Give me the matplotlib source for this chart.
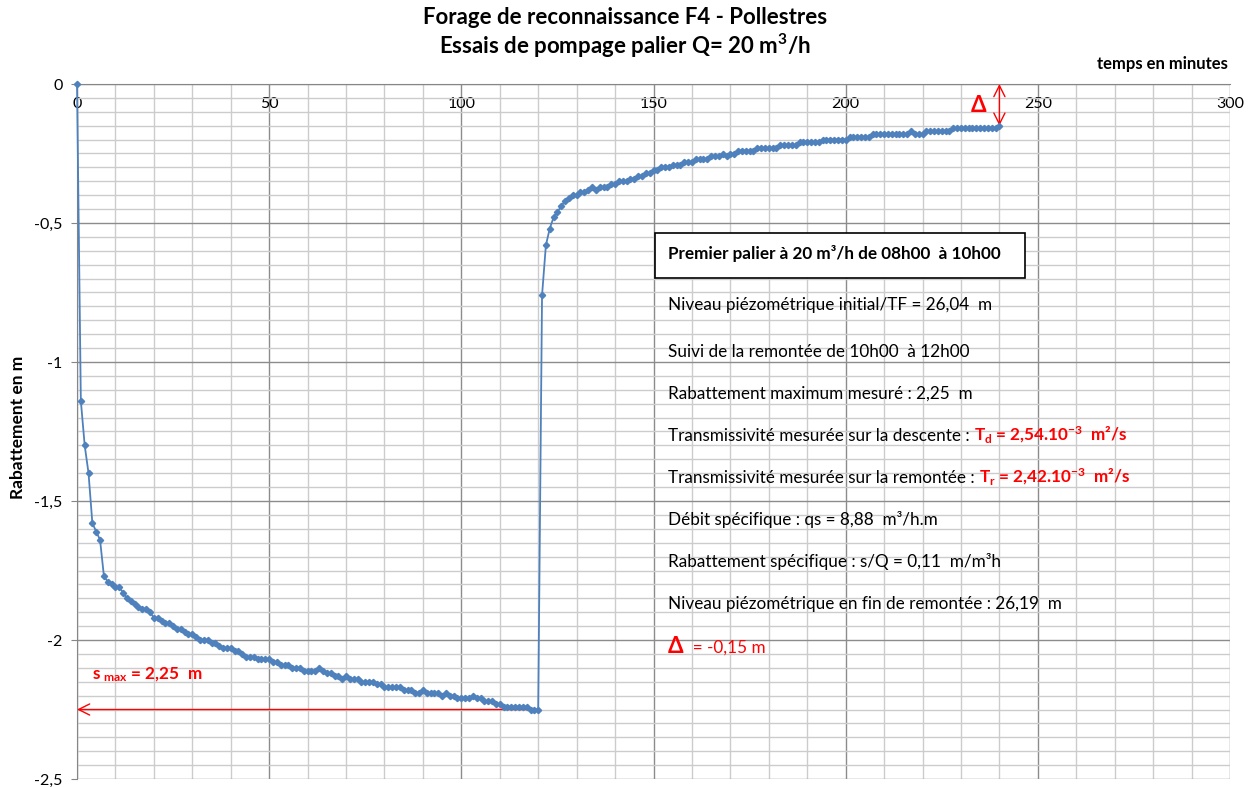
import matplotlib
matplotlib.use("Agg")
import matplotlib.pyplot as plt
from matplotlib.patches import Rectangle
from matplotlib.ticker import MultipleLocator, FuncFormatter

plt.rcParams["font.family"] = ["Lato", "DejaVu Sans"]
plt.rcParams["mathtext.default"] = "regular"

# pumping phase (minutes 0..120), drawdown in m
t_pump = list(range(0, 121))
s_pump = [
    0.00, -1.14, -1.30, -1.40, -1.58, -1.61, -1.64, -1.77, -1.79, -1.80,
    -1.81, -1.81, -1.83, -1.85, -1.86, -1.87, -1.88, -1.89, -1.89, -1.90,
    -1.92, -1.92, -1.93, -1.94, -1.94, -1.95, -1.96, -1.96, -1.97, -1.98,
    -1.98, -1.99, -2.00, -2.00, -2.00, -2.01, -2.01, -2.02, -2.03, -2.03,
    -2.03, -2.04, -2.04, -2.05, -2.06, -2.06, -2.06, -2.07, -2.07, -2.07,
    -2.07, -2.08, -2.08, -2.09, -2.09, -2.09, -2.10, -2.10, -2.10, -2.11,
    -2.11, -2.11, -2.11, -2.10, -2.11, -2.12, -2.12, -2.13, -2.13, -2.14,
    -2.13, -2.14, -2.14, -2.14, -2.15, -2.15, -2.15, -2.15, -2.16, -2.16,
    -2.17, -2.17, -2.17, -2.17, -2.17, -2.18, -2.18, -2.18, -2.19, -2.19,
    -2.18, -2.19, -2.19, -2.19, -2.19, -2.20, -2.19, -2.20, -2.20, -2.21,
    -2.21, -2.21, -2.21, -2.20, -2.21, -2.21, -2.22, -2.22, -2.22, -2.23,
    -2.23, -2.24, -2.24, -2.24, -2.24, -2.24, -2.24, -2.24, -2.25, -2.25,
    -2.25,
]

# recovery phase (minutes 121..240)
t_rec = list(range(121, 241))
s_rec = [
    -0.76, -0.58, -0.52, -0.48, -0.46, -0.44, -0.42, -0.41, -0.40, -0.40,
    -0.39, -0.39, -0.38, -0.37, -0.38, -0.37, -0.37, -0.37, -0.36, -0.36,
    -0.35, -0.35, -0.35, -0.34, -0.34, -0.33, -0.33, -0.32, -0.32, -0.31,
    -0.31, -0.30, -0.30, -0.30, -0.29, -0.29, -0.29, -0.28, -0.28, -0.28,
    -0.27, -0.27, -0.27, -0.27, -0.26, -0.26, -0.26, -0.25, -0.26, -0.25,
    -0.25, -0.24, -0.24, -0.24, -0.24, -0.24, -0.23, -0.23, -0.23, -0.23,
    -0.23, -0.23, -0.22, -0.22, -0.22, -0.22, -0.22, -0.21, -0.21, -0.21,
    -0.21, -0.21, -0.21, -0.20, -0.20, -0.20, -0.20, -0.20, -0.20, -0.20,
    -0.19, -0.19, -0.19, -0.19, -0.19, -0.19, -0.18, -0.18, -0.18, -0.18,
    -0.18, -0.18, -0.18, -0.18, -0.18, -0.18, -0.17, -0.18, -0.18, -0.18,
    -0.17, -0.17, -0.17, -0.17, -0.17, -0.17, -0.17, -0.16, -0.16, -0.16,
    -0.16, -0.16, -0.16, -0.16, -0.16, -0.16, -0.16, -0.16, -0.16, -0.15,
]

s_max = -2.25
delta = -0.15
t_end = 240

info_lines = [
    "Niveau piézométrique initial/TF = 26,04  m",
    "Suivi de la remontée de 10h00  à 12h00",
    "Rabattement maximum mesuré : 2,25  m",
]
info_lines2 = [
    "Débit spécifique : qs = 8,88  m³/h.m",
    "Rabattement spécifique : s/Q = 0,11  m/m³h",
    "Niveau piézométrique en fin de remontée : 26,19  m",
]

BLUE = "#4F81BD"
RED = "#FF0000"
FS = 12.3

fig = plt.figure(figsize=(12.58, 7.87), dpi=100)
W, H = 1258, 787
ax = fig.add_axes([77 / W, 1 - 779 / H, (1230 - 77) / W, (779 - 84) / H])

t_all = t_pump + t_rec
s_all = s_pump + s_rec
ax.plot(t_all, s_all, color=BLUE, lw=1.3, marker="D", ms=3.2,
        mec=BLUE, mfc=BLUE, zorder=4, clip_on=False)

ax.set_xlim(0, 300)
ax.set_ylim(-2.5, 0)
ax.xaxis.set_major_locator(MultipleLocator(50))
ax.xaxis.set_minor_locator(MultipleLocator(10))
ax.yaxis.set_major_locator(MultipleLocator(0.5))
ax.yaxis.set_minor_locator(MultipleLocator(0.05))
ax.yaxis.set_major_formatter(FuncFormatter(lambda v, p: ("%g" % v).replace(".", ",")))
ax.grid(which="minor", color="#cccccc", lw=1.0, zorder=0)
ax.grid(which="major", color="#8c8c8c", lw=1.0, zorder=0)
ax.set_axisbelow(True)

for side in ["top", "right"]:
    ax.spines[side].set_visible(False)
ax.spines["bottom"].set_position(("data", 0))
ax.spines["bottom"].set_color("#868686")
ax.spines["left"].set_color("#868686")
ax.tick_params(axis="x", which="both", length=0, pad=9, labelsize=11.5)
ax.tick_params(axis="y", which="major", length=4.5, pad=6, labelsize=11.5,
               color="#868686")
ax.tick_params(axis="y", which="minor", length=0)

fig.text(0.497, 1 - 17 / H, "Forage de reconnaissance F4 - Pollestres",
         ha="center", va="center", fontsize=16, fontweight="bold")
fig.text(0.497, 1 - 46 / H, "Essais de pompage palier Q= 20 m$^{3}$/h",
         ha="center", va="center", fontsize=16, fontweight="bold")
fig.text(1228 / W, 1 - 64 / H, "temps en minutes", ha="right", va="center",
         fontsize=12, fontweight="bold")
fig.text(18 / W, 1 - 427 / H, "Rabattement en m", ha="center", va="center",
         rotation=90, fontsize=12.5, fontweight="bold")

# info box
ax.add_patch(Rectangle((150.4, -0.698), 96.3, 0.162, fill=True, fc="white",
                       ec="black", lw=1.2, zorder=5))
ax.text(153.8, -0.608, "Premier palier à 20 m³/h de 08h00  à 10h00",
        fontsize=FS, fontweight="bold", va="center", zorder=6)

x0 = 153.8
for y, s in zip([-0.795, -0.964, -1.115], info_lines):
    ax.text(x0, y, s, fontsize=FS, va="center", zorder=6)

t1 = ax.text(x0, -1.266, "Transmissivité mesurée sur la descente : ",
             fontsize=FS, va="center", zorder=6)
ax.annotate("T$_{d}$ = 2,54.10$^{-3}$  m²/s", xy=(1, 0.5), xycoords=t1,
            va="center", ha="left", fontsize=FS, fontweight="bold",
            color=RED, zorder=6)
t2 = ax.text(x0, -1.417, "Transmissivité mesurée sur la remontée : ",
             fontsize=FS, va="center", zorder=6)
ax.annotate("T$_{r}$ = 2,42.10$^{-3}$  m²/s", xy=(1, 0.5), xycoords=t2,
            va="center", ha="left", fontsize=FS, fontweight="bold",
            color=RED, zorder=6)

for y, s in zip([-1.568, -1.719, -1.871], info_lines2):
    ax.text(x0, y, s, fontsize=FS, va="center", zorder=6)

td = ax.text(x0, -2.025, "Δ", fontsize=16, fontweight="bold", color=RED,
             va="center", zorder=6)
ax.annotate("  = -0,15 m", xy=(1, 0.45), xycoords=td, va="center",
            ha="left", fontsize=FS, color=RED, zorder=6)

# s max arrow
ax.annotate("", xy=(0, s_max), xytext=(120.5, s_max),
            arrowprops=dict(arrowstyle="->", color=RED, lw=1.0,
                            mutation_scale=20, shrinkA=0, shrinkB=0))
ax.text(4, -2.126, "s $_{max}$ = 2,25  m", color=RED, fontsize=FS,
        fontweight="bold", va="center")

# delta arrow at end of recovery
ax.annotate("", xy=(t_end, 0), xytext=(t_end, delta),
            arrowprops=dict(arrowstyle="<->", color=RED, lw=1.0,
                            mutation_scale=20, shrinkA=0, shrinkB=0))
ax.text(234.5, -0.079, "Δ", color=RED, fontsize=16, fontweight="bold",
        ha="center", va="center")

fig.savefig("out.png", dpi=100)
